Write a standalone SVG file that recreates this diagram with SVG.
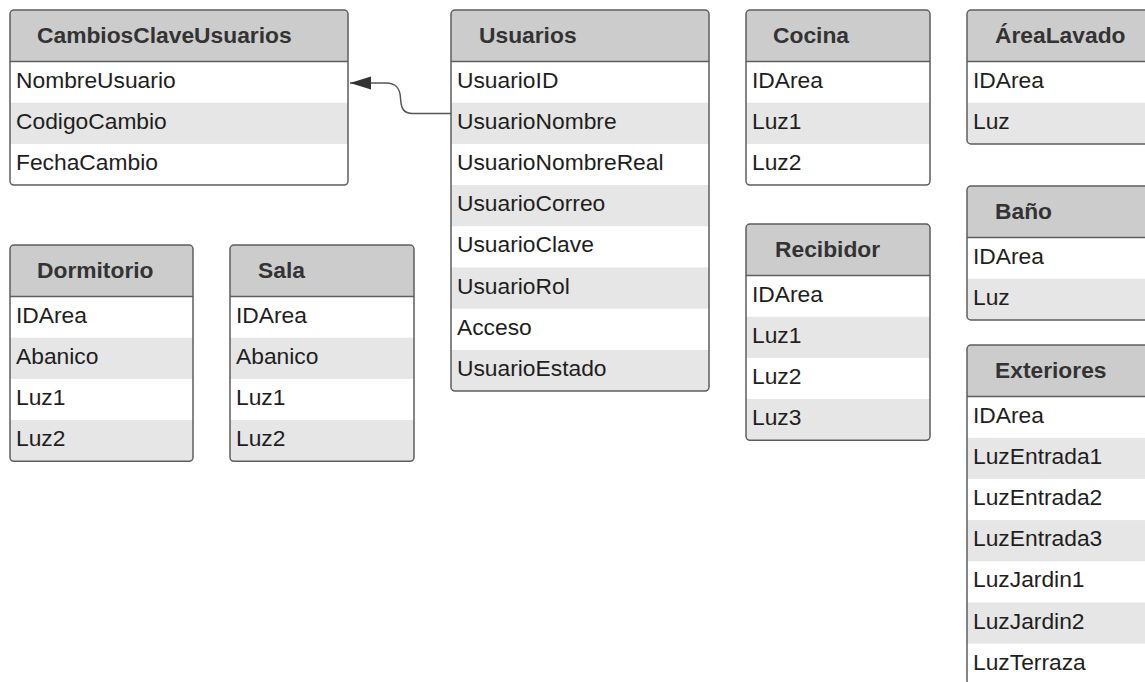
<svg xmlns="http://www.w3.org/2000/svg" width="1145" height="682" viewBox="0 0 1145 682">
  <style>
    .bg { fill: #ffffff; }
    .hd { fill: #cccccc; }
    .alt { fill: #e6e6e6; }
    .sep { stroke: #5e5e5e; stroke-width: 1.5; }
    .frame { fill: none; stroke: #5e5e5e; stroke-width: 1.5; }
    .title { font-family: "Liberation Sans", Arial, sans-serif; font-weight: bold; font-size: 22.8px; fill: #333333; }
    .field { font-family: "Liberation Sans", Arial, sans-serif; font-size: 22.8px; fill: #1e1e1e; }
    .link { fill: none; stroke: #555555; stroke-width: 1.5; }
  </style>
  <defs>
    <marker id="arrow" markerUnits="userSpaceOnUse" markerWidth="24" markerHeight="14" refX="21" refY="6.5" orient="auto">
      <path d="M0,0 L21,6.5 L0,13 Z" fill="#333333"/>
    </marker>
  </defs>
  <rect width="1145" height="682" fill="#ffffff"/>

  <!-- CambiosClaveUsuarios -->
  <g id="cambiosclaveusuarios">
    <rect class="bg" x="10" y="10" width="338" height="175.1" rx="4"/>
    <path class="hd" d="M10,61.5 V14 a4,4 0 0 1 4,-4 H344 a4,4 0 0 1 4,4 V61.5 Z"/>
    <rect class="alt" x="10" y="102.7" width="338" height="41.2"/>
    <line class="sep" x1="10" y1="61.5" x2="348" y2="61.5"/>
    <rect class="frame" x="10" y="10" width="338" height="175.1" rx="4"/>
    <text class="title" x="37" y="43">CambiosClaveUsuarios</text>
    <text class="field" x="16" y="87.5">NombreUsuario</text>
    <text class="field" x="16" y="128.7">CodigoCambio</text>
    <text class="field" x="16" y="169.9">FechaCambio</text>
  </g>

  <!-- Usuarios -->
  <g id="usuarios">
    <rect class="bg" x="451" y="10" width="258" height="381.1" rx="4"/>
    <path class="hd" d="M451,61.5 V14 a4,4 0 0 1 4,-4 H705 a4,4 0 0 1 4,4 V61.5 Z"/>
    <rect class="alt" x="451" y="102.7" width="258" height="41.2"/>
    <rect class="alt" x="451" y="185.1" width="258" height="41.2"/>
    <rect class="alt" x="451" y="267.5" width="258" height="41.2"/>
    <path class="alt" d="M451,349.9 H709 V387.1 a4,4 0 0 1 -4,4 H455 a4,4 0 0 1 -4,-4 Z"/>
    <line class="sep" x1="451" y1="61.5" x2="709" y2="61.5"/>
    <rect class="frame" x="451" y="10" width="258" height="381.1" rx="4"/>
    <text class="title" x="479" y="43">Usuarios</text>
    <text class="field" x="457" y="87.5">UsuarioID</text>
    <text class="field" x="457" y="128.7">UsuarioNombre</text>
    <text class="field" x="457" y="169.9">UsuarioNombreReal</text>
    <text class="field" x="457" y="211.1">UsuarioCorreo</text>
    <text class="field" x="457" y="252.3">UsuarioClave</text>
    <text class="field" x="457" y="293.5">UsuarioRol</text>
    <text class="field" x="457" y="334.7">Acceso</text>
    <text class="field" x="457" y="375.9">UsuarioEstado</text>
  </g>

  <!-- Cocina -->
  <g id="cocina">
    <rect class="bg" x="746" y="10" width="184" height="175.1" rx="4"/>
    <path class="hd" d="M746,61.5 V14 a4,4 0 0 1 4,-4 H926 a4,4 0 0 1 4,4 V61.5 Z"/>
    <rect class="alt" x="746" y="102.7" width="184" height="41.2"/>
    <line class="sep" x1="746" y1="61.5" x2="930" y2="61.5"/>
    <rect class="frame" x="746" y="10" width="184" height="175.1" rx="4"/>
    <text class="title" x="773" y="43">Cocina</text>
    <text class="field" x="752" y="87.5">IDArea</text>
    <text class="field" x="752" y="128.7">Luz1</text>
    <text class="field" x="752" y="169.9">Luz2</text>
  </g>

  <!-- ÁreaLavado -->
  <g id="arealavado">
    <rect class="bg" x="967" y="10" width="200" height="133.9" rx="4"/>
    <path class="hd" d="M967,61.5 V14 a4,4 0 0 1 4,-4 H1163 a4,4 0 0 1 4,4 V61.5 Z"/>
    <path class="alt" d="M967,102.7 H1167 V139.9 a4,4 0 0 1 -4,4 H971 a4,4 0 0 1 -4,-4 Z"/>
    <line class="sep" x1="967" y1="61.5" x2="1167" y2="61.5"/>
    <rect class="frame" x="967" y="10" width="200" height="133.9" rx="4"/>
    <text class="title" x="995" y="43">ÁreaLavado</text>
    <text class="field" x="973" y="87.5">IDArea</text>
    <text class="field" x="973" y="128.7">Luz</text>
  </g>

  <!-- Baño -->
  <g id="bano">
    <rect class="bg" x="967" y="186" width="200" height="133.9" rx="4"/>
    <path class="hd" d="M967,237.5 V190 a4,4 0 0 1 4,-4 H1163 a4,4 0 0 1 4,4 V237.5 Z"/>
    <path class="alt" d="M967,278.7 H1167 V315.9 a4,4 0 0 1 -4,4 H971 a4,4 0 0 1 -4,-4 Z"/>
    <line class="sep" x1="967" y1="237.5" x2="1167" y2="237.5"/>
    <rect class="frame" x="967" y="186" width="200" height="133.9" rx="4"/>
    <text class="title" x="995" y="219">Baño</text>
    <text class="field" x="973" y="263.5">IDArea</text>
    <text class="field" x="973" y="304.7">Luz</text>
  </g>

  <!-- Exteriores -->
  <g id="exteriores">
    <rect class="bg" x="967" y="345" width="200" height="339.9" rx="4"/>
    <path class="hd" d="M967,396.5 V349 a4,4 0 0 1 4,-4 H1163 a4,4 0 0 1 4,4 V396.5 Z"/>
    <rect class="alt" x="967" y="437.7" width="200" height="41.2"/>
    <rect class="alt" x="967" y="520.1" width="200" height="41.2"/>
    <rect class="alt" x="967" y="602.5" width="200" height="41.2"/>
    <line class="sep" x1="967" y1="396.5" x2="1167" y2="396.5"/>
    <rect class="frame" x="967" y="345" width="200" height="339.9" rx="4"/>
    <text class="title" x="995" y="378">Exteriores</text>
    <text class="field" x="973" y="422.5">IDArea</text>
    <text class="field" x="973" y="463.7">LuzEntrada1</text>
    <text class="field" x="973" y="504.9">LuzEntrada2</text>
    <text class="field" x="973" y="546.1">LuzEntrada3</text>
    <text class="field" x="973" y="587.3">LuzJardin1</text>
    <text class="field" x="973" y="628.5">LuzJardin2</text>
    <text class="field" x="973" y="669.7">LuzTerraza</text>
  </g>

  <!-- Recibidor -->
  <g id="recibidor">
    <rect class="bg" x="746" y="224" width="184" height="216.3" rx="4"/>
    <path class="hd" d="M746,275.5 V228 a4,4 0 0 1 4,-4 H926 a4,4 0 0 1 4,4 V275.5 Z"/>
    <rect class="alt" x="746" y="316.7" width="184" height="41.2"/>
    <path class="alt" d="M746,399.1 H930 V436.3 a4,4 0 0 1 -4,4 H750 a4,4 0 0 1 -4,-4 Z"/>
    <line class="sep" x1="746" y1="275.5" x2="930" y2="275.5"/>
    <rect class="frame" x="746" y="224" width="184" height="216.3" rx="4"/>
    <text class="title" x="775" y="257">Recibidor</text>
    <text class="field" x="752" y="301.5">IDArea</text>
    <text class="field" x="752" y="342.7">Luz1</text>
    <text class="field" x="752" y="383.9">Luz2</text>
    <text class="field" x="752" y="425.1">Luz3</text>
  </g>

  <!-- Dormitorio -->
  <g id="dormitorio">
    <rect class="bg" x="10" y="245" width="183" height="216.3" rx="4"/>
    <path class="hd" d="M10,296.5 V249 a4,4 0 0 1 4,-4 H189 a4,4 0 0 1 4,4 V296.5 Z"/>
    <rect class="alt" x="10" y="337.7" width="183" height="41.2"/>
    <path class="alt" d="M10,420.1 H193 V457.3 a4,4 0 0 1 -4,4 H14 a4,4 0 0 1 -4,-4 Z"/>
    <line class="sep" x1="10" y1="296.5" x2="193" y2="296.5"/>
    <rect class="frame" x="10" y="245" width="183" height="216.3" rx="4"/>
    <text class="title" x="37" y="278">Dormitorio</text>
    <text class="field" x="16" y="322.5">IDArea</text>
    <text class="field" x="16" y="363.7">Abanico</text>
    <text class="field" x="16" y="404.9">Luz1</text>
    <text class="field" x="16" y="446.1">Luz2</text>
  </g>

  <!-- Sala -->
  <g id="sala">
    <rect class="bg" x="230" y="245" width="184" height="216.3" rx="4"/>
    <path class="hd" d="M230,296.5 V249 a4,4 0 0 1 4,-4 H410 a4,4 0 0 1 4,4 V296.5 Z"/>
    <rect class="alt" x="230" y="337.7" width="184" height="41.2"/>
    <path class="alt" d="M230,420.1 H414 V457.3 a4,4 0 0 1 -4,4 H234 a4,4 0 0 1 -4,-4 Z"/>
    <line class="sep" x1="230" y1="296.5" x2="414" y2="296.5"/>
    <rect class="frame" x="230" y="245" width="184" height="216.3" rx="4"/>
    <text class="title" x="258" y="278">Sala</text>
    <text class="field" x="236" y="322.5">IDArea</text>
    <text class="field" x="236" y="363.7">Abanico</text>
    <text class="field" x="236" y="404.9">Luz1</text>
    <text class="field" x="236" y="446.1">Luz2</text>
  </g>

  <!-- Connectors -->
  <g id="connectors">
    <path class="link" d="M451,113.5 H413 C403,113.5 401,108 400.5,98 C400,88 396,83 386,83 H350" marker-end="url(#arrow)"/>
  </g>
</svg>
